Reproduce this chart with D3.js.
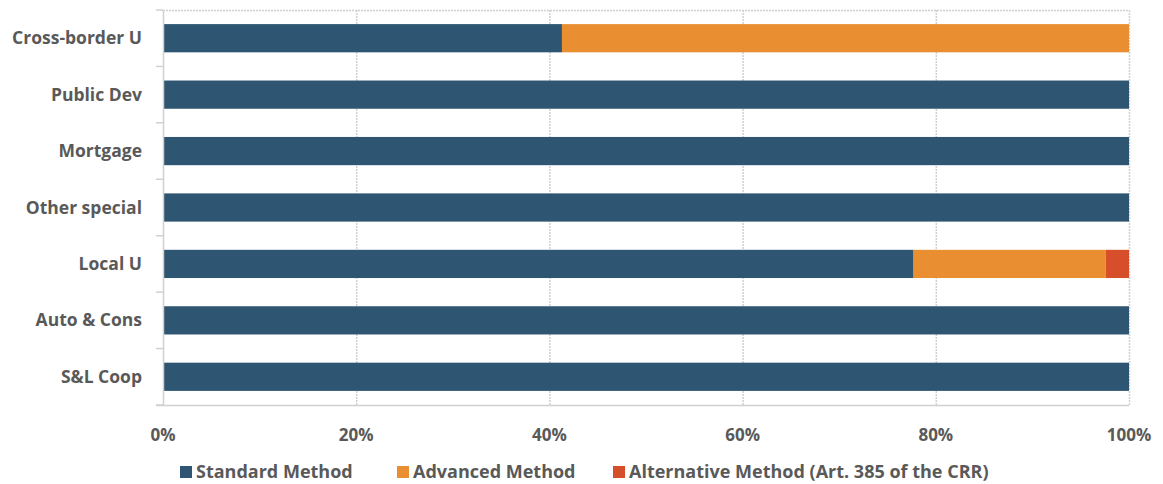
<!DOCTYPE html>
<html><head><meta charset="utf-8">
<script src="https://cdn.jsdelivr.net/npm/d3@7/dist/d3.min.js"></script>
<style>body{margin:0;background:#fff;} text{font-family:"Open Sans",sans-serif;font-weight:700;fill:#595959;}</style>
</head><body><svg id="c" width="1163" height="484"></svg>
<script>
const categories = ["Cross-border U","Public Dev","Mortgage","Other special","Local U","Auto & Cons","S&L Coop"];
const standardMethod = [41.3,100,100,100,77.7,100,100];
const advancedMethod = [58.7,0,0,0,19.9,0,0];
const alternativeMethod = [0,0,0,0,2.4,0,0];
const seriesNames = ["Standard Method","Advanced Method","Alternative Method (Art. 385 of the CRR)"];
const colors = ["#2E5571","#E98F31","#D64F2A"];
const xTicks = [0,20,40,60,80,100];

const svg = d3.select("#c");
const m = {l:163, r:1129, t:10, b:405};
const x = d3.scaleLinear().domain([0,100]).range([m.l,m.r]);
const y = d3.scaleBand().domain(categories).range([m.t,m.b]).paddingInner(0.5).paddingOuter(0.25);

svg.append("g").selectAll("line").data(xTicks.slice(1)).join("line")
  .attr("x1",d=>x(d)+0.5).attr("x2",d=>x(d)+0.5).attr("y1",m.t).attr("y2",m.b)
  .attr("stroke","#d0d0d0").attr("stroke-width",1.5).attr("stroke-dasharray","2,1");
svg.append("line").attr("x1",m.l).attr("x2",m.r).attr("y1",m.t+0.5).attr("y2",m.t+0.5)
  .attr("stroke","#d0d0d0").attr("stroke-width",1.5).attr("stroke-dasharray","2,1");

const data = categories.map((c,i)=>({cat:c, Standard:standardMethod[i], Advanced:advancedMethod[i], Alternative:alternativeMethod[i]}));
const stack = d3.stack().keys(["Standard","Advanced","Alternative"])(data);
svg.append("g").selectAll("g").data(stack).join("g").attr("fill",(d,i)=>colors[i])
  .selectAll("rect").data(d=>d.filter(v=>v[1]-v[0]>0)).join("rect")
  .attr("x",d=>x(d[0])).attr("width",d=>x(d[1])-x(d[0]))
  .attr("y",d=>y(d.data.cat)).attr("height",y.bandwidth());

svg.append("line").attr("x1",m.l+0.5).attr("x2",m.l+0.5).attr("y1",m.t).attr("y2",m.b)
  .attr("stroke","#d0d0d0").attr("stroke-width",1.5);
const bounds = d3.range(categories.length+1).map(i=>m.t+i*(m.b-m.t)/categories.length);
svg.append("g").selectAll("line").data(bounds).join("line")
  .attr("x1",m.l-7).attr("x2",m.l).attr("y1",d=>d).attr("y2",d=>d)
  .attr("stroke","#d0d0d0").attr("stroke-width",1.5);
svg.append("line").attr("x1",m.l-7).attr("x2",m.r).attr("y1",m.b+0.5).attr("y2",m.b+0.5)
  .attr("stroke","#d0d0d0").attr("stroke-width",1.5);

svg.append("g").selectAll("text").data(categories).join("text")
  .attr("x",142).attr("y",d=>y(d)+y.bandwidth()/2).attr("dy","0.35em")
  .attr("text-anchor","end").attr("font-size",17.5).text(d=>d);

svg.append("g").selectAll("text").data(xTicks).join("text")
  .attr("x",d=>x(d)).attr("y",441).attr("text-anchor","middle").attr("font-size",17)
  .text(d=>d+"%");

const legX = [180,397,613];
const lg = svg.append("g").selectAll("g").data(seriesNames).join("g")
  .attr("transform",(d,i)=>`translate(${legX[i]},472)`);
lg.append("rect").attr("x",0).attr("y",-6).attr("width",12).attr("height",12).attr("fill",(d,i)=>colors[i]);
lg.append("text").attr("x",16).attr("dy","0.35em").attr("font-size",18).text(d=>d);
</script></body></html>
